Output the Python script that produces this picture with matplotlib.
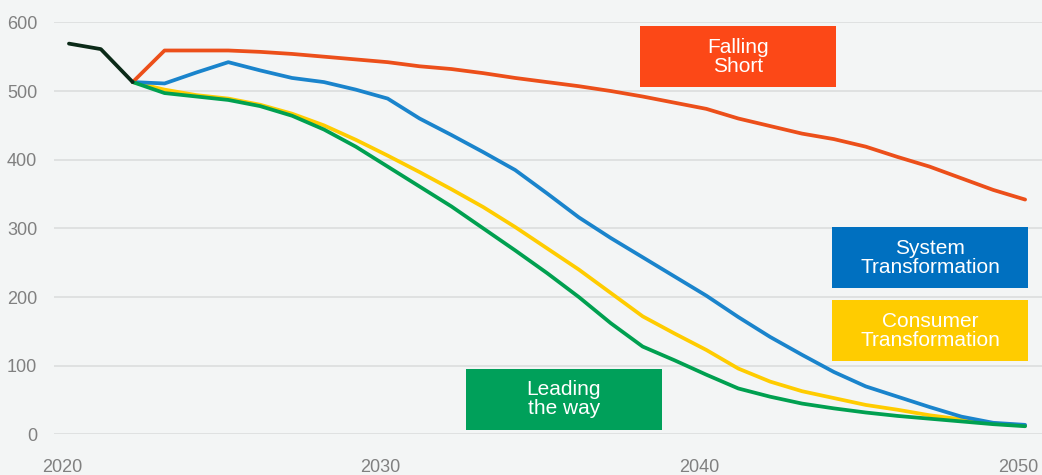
"""
Сценарии выбросов 2020-2050: история + четыре траектории.
"""

import matplotlib
matplotlib.use("Agg")
import matplotlib.pyplot as plt
import matplotlib.transforms as mtransforms
from matplotlib.patches import Rectangle

plt.rcParams["font.family"] = ["Liberation Sans", "DejaVu Sans"]

years_hist = [2020, 2021, 2022]
hist = [569, 561, 513]

years = list(range(2022, 2051))
falling_short = [513, 559, 559, 559, 557, 554, 550, 546, 542, 536, 532, 526, 519, 513, 507,
                 500, 492, 483, 474, 460, 449, 438, 430, 419, 404, 390, 373, 356, 342]
system = [513, 511, 527, 542, 530, 519, 513, 502, 489, 460, 436, 411, 385, 351, 316,
          286, 258, 230, 202, 171, 142, 116, 91, 70, 55, 40, 26, 17, 14]
consumer = [513, 502, 494, 489, 480, 467, 450, 429, 406, 382, 357, 331, 302, 271, 240,
            206, 172, 147, 123, 96, 77, 63, 53, 43, 36, 28, 22, 16, 13]
leading = [513, 497, 492, 487, 478, 464, 444, 419, 390, 361, 332, 300, 268, 235, 200,
           162, 128, 108, 87, 67, 55, 45, 38, 32, 27, 23, 19, 15, 12]

y_ticks = [0, 100, 200, 300, 400, 500, 600]
x_ticks = [2020, 2030, 2040, 2050]

BG = "#f3f5f5"

fig = plt.figure(figsize=(10.42, 4.75), dpi=100, facecolor=BG)
ax = fig.add_axes([0.0518, 0.0853, 0.9482, 0.8677], facecolor=BG)

lw = 2.7
ax.plot(years, leading, color="#00a050", lw=lw, zorder=3, solid_capstyle="round")
ax.plot(years, consumer, color="#ffcc00", lw=lw, zorder=2, solid_capstyle="round")
ax.plot(years, system, color="#1a84cc", lw=lw, zorder=2, solid_capstyle="round")
ax.plot(years, falling_short, color="#ec4f1a", lw=lw, zorder=2, solid_capstyle="round")
ax.plot(years_hist, hist, color="#0b2a18", lw=lw, zorder=4, solid_capstyle="round")

ax.set_xlim(2019.53, 2050.53)
ax.set_ylim(0, 600)
ax.set_yticks(y_ticks)
ax.set_xticks(x_ticks)
ax.grid(axis="y", color="#dcdddd", lw=1.2)
ax.set_axisbelow(True)
for s in ax.spines.values():
    s.set_visible(False)
ax.tick_params(axis="both", length=0, labelsize=13, colors="#808080")
ax.tick_params(axis="y", pad=12)
ax.tick_params(axis="x", pad=18)

# подписи годов чуть левее, чтобы 2050 влезло в кадр
shift = mtransforms.ScaledTranslation(-7 / 100, 0, fig.dpi_scale_trans)
for lbl in ax.get_xticklabels():
    lbl.set_transform(lbl.get_transform() + shift)

# подписи сценариев — цветные плашки
labels = [
    ("Falling\nShort", "#fc4817", 0.593, 0.843),
    ("Leading\nthe way", "#00a05a", 0.417, 0.011),
    ("System\nTransformation", "#0070c0", 0.7874, 0.355),
    ("Consumer\nTransformation", "#ffcc00", 0.7874, 0.178),
]
w, h = 0.1984, 0.148
for text, color, x0, y0 in labels:
    ax.add_patch(Rectangle((x0, y0), w, h, transform=ax.transAxes,
                           facecolor=color, edgecolor="none", zorder=5, clip_on=False))
    ax.text(x0 + w / 2, y0 + h / 2, text, transform=ax.transAxes, color="white",
            fontsize=15, ha="center", va="center", linespacing=1.0, zorder=6)

fig.savefig("out.png", dpi=100, facecolor=BG)
